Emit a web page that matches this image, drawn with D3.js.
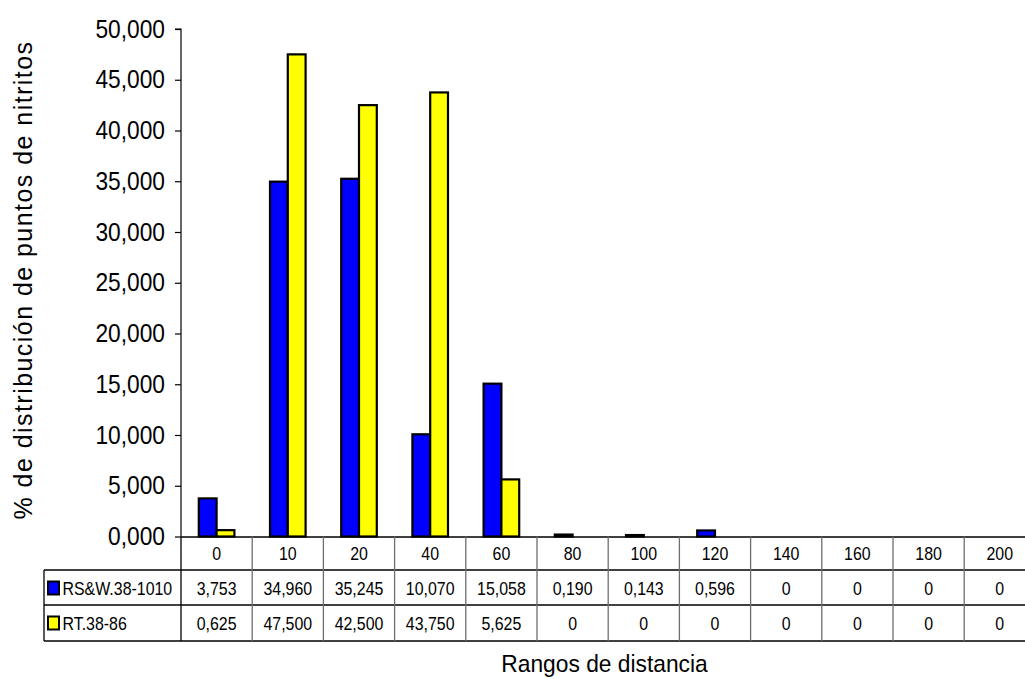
<!DOCTYPE html>
<html>
<head>
<meta charset="utf-8">
<script src="https://cdn.jsdelivr.net/npm/d3@7/dist/d3.min.js"></script>
<style>
  html, body { margin: 0; padding: 0; background: #fff; }
  svg { display: block; font-family: "Liberation Sans", Arial, sans-serif; }
</style>
</head>
<body>
<svg id="chart" width="1025" height="679"></svg>
<script>
// Distance ranges (x categories)
const categories = ["0", "10", "20", "40", "60", "80", "100", "120", "140", "160", "180", "200"];
// Series names
const seriesNames = ["RS&W.38-1010", "RT.38-86"];
// Percentage of nitrite points per range
const rswValues = [3.753, 34.960, 35.245, 10.070, 15.058, 0.190, 0.143, 0.596, 0, 0, 0, 0];
const rtValues  = [0.625, 47.500, 42.500, 43.750, 5.625, 0, 0, 0, 0, 0, 0, 0];
const seriesColors = ["#0000ff", "#ffff00"];
const yTicks = [0, 5, 10, 15, 20, 25, 30, 35, 40, 45, 50];

const series = [
  { name: seriesNames[0], values: rswValues, color: seriesColors[0] },
  { name: seriesNames[1], values: rtValues,  color: seriesColors[1] }
];

const svg = d3.select("#chart");

const plotLeft = 181, plotTop = 29, plotBottom = 536.5;
const bandW = 71.2;

const x = d3.scaleBand()
  .domain(categories)
  .range([plotLeft, plotLeft + bandW * categories.length])
  .padding(0);

const y = d3.scaleLinear().domain([0, 50]).range([plotBottom, plotTop]);

const num = v => v === 0 ? "0" : d3.format(".3f")(v).replace(".", ",");
const tickFmt = v => d3.format(",.3f")(v).replace(".", ",");

// text helper with slight horizontal condensing
function label(g, txt, px, py, size, anchor, sx) {
  return g.append("text")
    .attr("transform", `translate(${px},${py}) scale(${sx},1)`)
    .attr("text-anchor", anchor)
    .attr("font-size", size)
    .attr("fill", "#000")
    .text(txt);
}

// Bars: two per category, centred in each band
const sub = d3.scaleBand().domain(d3.range(series.length))
  .range([0, x.bandwidth() / 2]);

const groups = svg.append("g").selectAll("g")
  .data(categories)
  .join("g")
  .attr("transform", c => `translate(${x(c) + x.bandwidth() / 4},0)`);

groups.selectAll("rect")
  .data((c, i) => series.map((s, k) => ({ k, v: s.values[i], color: s.color }))
                        .filter(d => d.v > 0))
  .join("rect")
  .attr("x", d => sub(d.k))
  .attr("width", sub.bandwidth())
  .attr("y", d => y(d.v))
  .attr("height", d => Math.max(0.01, plotBottom - y(d.v)))
  .attr("fill", d => d.color)
  .attr("stroke", "#000")
  .attr("stroke-width", 2.2);

// Y axis
const yAxis = d3.axisLeft(y).tickValues(yTicks).tickSize(6).tickFormat("");
const yg = svg.append("g").attr("transform", `translate(${plotLeft},0)`).call(yAxis);
yg.select(".domain").attr("stroke", "#000").attr("stroke-width", 1.2)
  .attr("d", `M-6,${plotTop}H0V${plotBottom}`);
yg.selectAll(".tick line").attr("stroke", "#000").attr("stroke-width", 1.2);

const yLabels = svg.append("g");
yTicks.forEach(t => {
  label(yLabels, tickFmt(t), 165, y(t) + 8.5, 25, "end", 0.91);
});

// X axis baseline / table top
svg.append("line")
  .attr("x1", plotLeft).attr("x2", 1025)
  .attr("y1", plotBottom + 0.5).attr("y2", plotBottom + 0.5)
  .attr("stroke", "#000").attr("stroke-width", 1.5);

// Data table
const tableLeft = 44;
const rowLines = [570, 605, 641];
const table = svg.append("g");

rowLines.forEach(ry => {
  table.append("line")
    .attr("x1", tableLeft).attr("x2", 1025)
    .attr("y1", ry).attr("y2", ry)
    .attr("stroke", "#000").attr("stroke-width", 1.3);
});
table.append("line")
  .attr("x1", tableLeft).attr("x2", tableLeft)
  .attr("y1", 570).attr("y2", 641)
  .attr("stroke", "#000").attr("stroke-width", 1.3);

categories.forEach((c, i) => {
  table.append("line")
    .attr("x1", x(c)).attr("x2", x(c))
    .attr("y1", plotBottom).attr("y2", 641)
    .attr("stroke", i === 0 ? "#000" : "#6e6e6e").attr("stroke-width", 1.3);
});

// Header row: category labels
categories.forEach(c => {
  label(table, c, x(c) + x.bandwidth() / 2, 559.5, 17.5, "middle", 0.91);
});

// Series rows with legend keys
const rowCenters = [588, 623];
series.forEach((s, k) => {
  const cy = rowCenters[k];
  table.append("rect")
    .attr("x", 48).attr("y", cy - 6.5)
    .attr("width", 11).attr("height", 13)
    .attr("fill", s.color)
    .attr("stroke", "#000").attr("stroke-width", 2);
  label(table, s.name, 62.5, cy + 6.5, 17.5, "start", 0.91);
  s.values.forEach((v, i) => {
    label(table, num(v), x(categories[i]) + x.bandwidth() / 2, cy + 6.5, 17.5, "middle", 0.91);
  });
});

// Axis titles
svg.append("text")
  .attr("transform", "translate(32,280) rotate(-90)")
  .attr("text-anchor", "middle")
  .attr("font-size", 25)
  .attr("letter-spacing", 1.45)
  .text("% de distribución de puntos de nitritos");

label(svg, "Rangos de distancia", 604.5, 672, 24, "middle", 0.95);
</script>
</body>
</html>
